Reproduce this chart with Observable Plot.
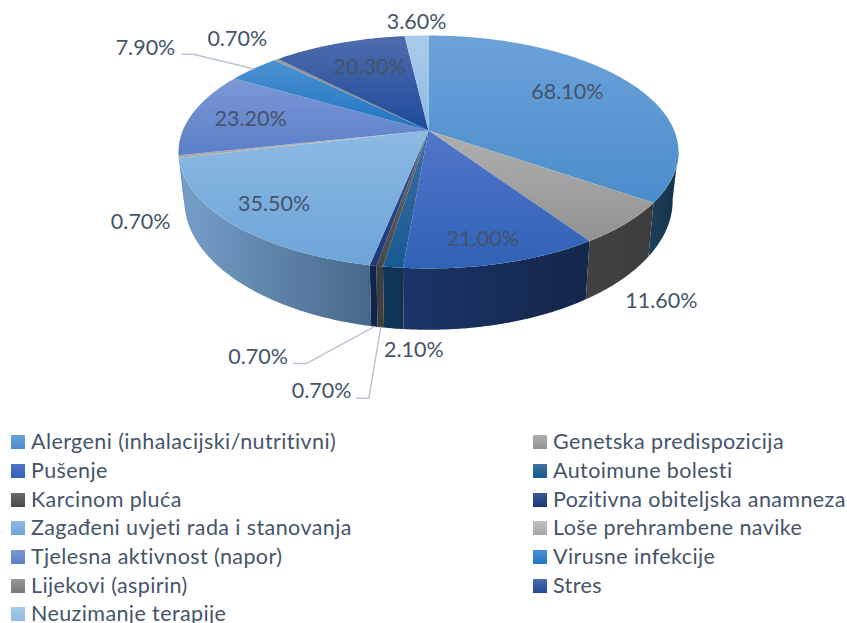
<!DOCTYPE html>
<html>
<head>
<meta charset="utf-8">
<script src="https://cdn.jsdelivr.net/npm/d3@7"></script>
<script src="https://cdn.jsdelivr.net/npm/@observablehq/plot@0.6"></script>
<style>
html,body{margin:0;padding:0;background:#fff;width:847px;height:623px;overflow:hidden}
svg{display:block}
#legend{display:grid;grid-template-columns:522px 1fr;grid-auto-rows:28.7px;padding-left:11px;margin-top:-1px;font:21.5px Lato,sans-serif;letter-spacing:.4px;color:#44546a}
.item{display:flex;align-items:center;white-space:nowrap}
.swatch{width:14px;height:14px;margin-right:6px;flex:none;position:relative;top:1px}
</style>
</head>
<body>
<div id="chart"></div>
<div id="legend"></div>
<script>
const categories = ["Alergeni (inhalacijski/nutritivni)","Genetska predispozicija","Pušenje","Autoimune bolesti","Karcinom pluća","Pozitivna obiteljska anamneza","Zagađeni uvjeti rada i stanovanja","Loše prehrambene navike","Tjelesna aktivnost (napor)","Virusne infekcije","Lijekovi (aspirin)","Stres","Neuzimanje terapije"];
const values = [68.1,11.6,21.0,2.1,0.7,0.7,35.5,0.7,23.2,7.9,0.7,20.3,3.6];
const faceTop = ["#6ca2da","#b0b0b0","#5275c8","#3f6f9e","#6b6b6b","#3b5a8f","#8cbae3","#c2c2c2","#7d97d6","#4b91d3","#999999","#4f6cad","#a9cbeb"];
const faceBottom = ["#4a8dcb","#929292","#2f62b8","#145a92","#484848","#1a3878","#6da4d9","#a6a6a6","#5a7fc8","#1f74c0","#777777","#1e4a9a","#8fbbe4"];
const wallLeft = ["#1d3e5a","#424242","#1a3568","#0f3657","#3e3e3e","#10264f","#769fc9","#a0a0a0","#5a7fc8","#1f74c0","#777777","#1e4a9a","#8fbbe4"];
const wallRight = ["#16324b","#3c3c3c","#14264a","#0d3350","#3e3e3e","#0f2146","#466888","#909090","#5a7fc8","#1f74c0","#777777","#1e4a9a","#8fbbe4"];
const labelOffset = [[-62,9],[35,78],[-20,-24],[21,83],[-58,125],[-115,92],[42,-20],[-38,65],[58,6],[-108,-21],[-39,-21],[31,24],[0,-14]];
// leader lines: slice index, which rim, offsets of the elbow and the end
const leaders = [[9,"top",[-60,-14.5],[-71,-14.5]],[4,"bottom",[-12,71],[-24,71]],[5,"bottom",[-68,37],[-81,37]]];

const K = 0.1845, CX = 428;
const TOP = {cy:130, R:245.7, S:112.5}, BOTTOM = {cy:176, R:240, S:125};
const rim = (deg, d) => {
  const a = deg*Math.PI/180, u = Math.sin(a), v = Math.cos(a), w = 1+K*v;
  return [CX + d.R*u/w, d.cy - d.S*v/w];
};
const total = d3.sum(values);
let cum = 0;
const slices = values.map((v,i) => { const a0 = cum; cum += v/total*360; return {i, a0, a1:cum, mid:(a0+cum)/2}; });
const arc = (a0,a1,d) => { const n = Math.max(2,Math.ceil((a1-a0)*2)); return d3.range(n+1).map(k => rim(a0+(a1-a0)*k/n,d)); };
const VIS0 = 100, VIS1 = 260;

const defs = () => {
  const g = d3.create("svg:defs");
  slices.forEach(({i}) => {
    const f = g.append("linearGradient").attr("id","f"+i).attr("x1",0).attr("y1",0).attr("x2",0).attr("y2",1);
    f.append("stop").attr("offset",0).attr("stop-color",faceTop[i]);
    f.append("stop").attr("offset",1).attr("stop-color",faceBottom[i]);
    const s = g.append("linearGradient").attr("id","w"+i).attr("x1",0).attr("y1",0).attr("x2",1).attr("y2",0);
    s.append("stop").attr("offset",0).attr("stop-color",wallLeft[i]);
    s.append("stop").attr("offset",1).attr("stop-color",wallRight[i]);
  });
  return g.node();
};
const px = d => d[0], py = d => d[1];
const walls = slices.filter(s => s.a1>VIS0 && s.a0<VIS1).map(s => {
  const a0 = Math.max(s.a0,VIS0), a1 = Math.min(s.a1,VIS1);
  const pts = [...arc(a0,a1,TOP), ...arc(a0,a1,BOTTOM).reverse()];
  return Plot.line(pts,{x:px,y:py,fill:`url(#w${s.i})`,stroke:"none"});
});
const faces = slices.map(s => {
  const pts = [[CX,TOP.cy], ...arc(s.a0,s.a1,TOP)];
  return Plot.line(pts,{x:px,y:py,fill:`url(#f${s.i})`,stroke:"none"});
});
const leaderMarks = leaders.map(([i,which,e1,e2]) => {
  const p = rim(slices[i].mid, which==="top"?TOP:BOTTOM);
  return Plot.line([p,[p[0]+e1[0],p[1]+e1[1]],[p[0]+e2[0],p[1]+e2[1]]],{x:px,y:py,stroke:"#b9c5d6",strokeWidth:1.5});
});
const labels = slices.map(s => {
  const p = rim(s.mid,TOP);
  return {x:p[0]+labelOffset[s.i][0], y:p[1]+labelOffset[s.i][1], t:values[s.i].toFixed(2)+"%"};
});
const chart = Plot.plot({
  width:847, height:428, margin:0,
  style:{background:"transparent",overflow:"visible"},
  x:{domain:[0,847],range:[0,847],axis:null},
  y:{domain:[0,428],range:[0,428],axis:null},
  marks:[
    defs, ...walls, ...faces, ...leaderMarks,
    Plot.text(labels,{x:"x",y:"y",text:"t",fontSize:21.5,fontFamily:"Lato, sans-serif",fill:"#44546a",textAnchor:"middle"})
  ]
});
document.getElementById("chart").append(chart);
const legend = d3.select("#legend");
categories.forEach((c,i) => {
  const it = legend.append("div").attr("class","item");
  it.append("span").attr("class","swatch").style("background",`linear-gradient(${faceTop[i]},${faceBottom[i]})`);
  it.append("span").text(c);
});
</script>
</body>
</html>
